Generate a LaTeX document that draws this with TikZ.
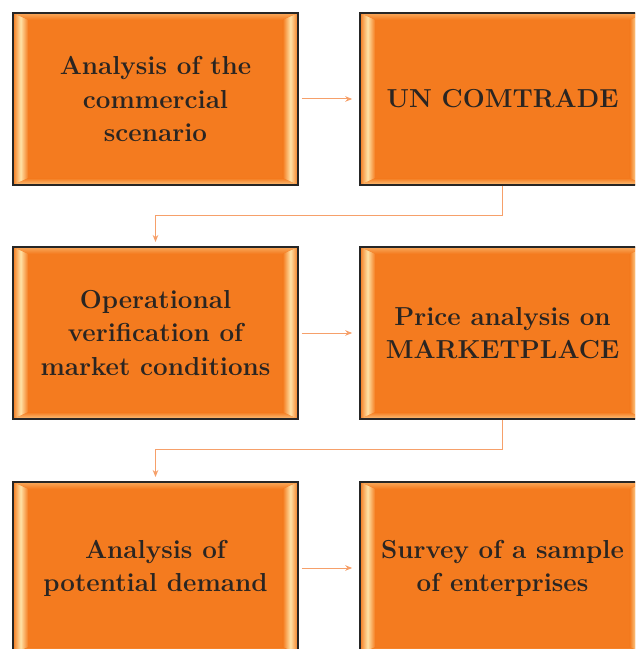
\documentclass[tikz,border=0pt]{standalone}
\usetikzlibrary{arrows.meta,calc}

\definecolor{boxorange}{HTML}{F47B1F}
\definecolor{bevlight}{HTML}{FFE2A6}
\definecolor{linkorange}{HTML}{F6A06A}
\definecolor{textgray}{HTML}{2A2522}

\begin{document}
\begin{tikzpicture}[
  stage/.style={draw=black!85, line width=1.1pt, fill=boxorange,
    minimum width=\boxW cm, minimum height=\boxH cm, inner sep=0pt,
    align=center, text=textgray,
    font=\bfseries\fontsize{18.5}{23.5}\selectfont,
    path picture={
      \path (path picture bounding box.south west) coordinate (pSW)
            (path picture bounding box.north east) coordinate (pNE);
      % side bevels
      \shade[left color=boxorange, right color=boxorange, middle color=bevlight]
        (pSW) -- (pSW|-pNE) -- ($(pSW|-pNE)+(\bevX,-\bevY)$)
        -- ($(pSW)+(\bevX,\bevY)$) -- cycle;
      \shade[left color=boxorange, right color=boxorange, middle color=bevlight]
        (pNE) -- (pNE|-pSW) -- ($(pNE|-pSW)+(-\bevX,\bevY)$)
        -- ($(pNE)+(-\bevX,-\bevY)$) -- cycle;
      % top and bottom bevels
      \shade[top color=bevlight!45!boxorange, bottom color=boxorange]
        (pSW|-pNE) -- (pNE) -- ($(pNE)+(-\bevX,-\bevY)$)
        -- ($(pSW|-pNE)+(\bevX,-\bevY)$) -- cycle;
      \shade[top color=boxorange, bottom color=bevlight!70!boxorange]
        (pSW) -- (pNE|-pSW) -- ($(pNE|-pSW)+(-\bevX,\bevY)$)
        -- ($(pSW)+(\bevX,\bevY)$) -- cycle;
    }},
  link/.style={draw=linkorange, line width=0.7pt,
    -{Stealth[length=5pt,width=4pt]}}
]

% Parameters
\def\boxW{7.125}  % box width
\def\boxH{4.3}    % box height
\def\bevX{0.38}   % side bevel
\def\bevY{0.17}   % top/bottom bevel

\clip (0,0) rectangle (15.875,16.225);
\useasboundingbox (0,0) rectangle (15.875,16.225);

% ==========================================================
% Stages
% ==========================================================
\node[stage] (scenario) at (3.8875,13.75)
  {Analysis of the\\commercial\\scenario};
\node[stage] (comtrade) at (12.5625,13.75) {UN COMTRADE};

\node[stage] (verify) at (3.8875,7.9)
  {Operational\\verification of\\market conditions};
\node[stage] (price) at (12.5625,7.9)
  {Price analysis on\\MARKETPLACE};

\node[stage] (demand) at (3.8875,2.025)
  {Analysis of\\potential demand};
\node[stage] (survey) at (12.5625,2.025)
  {Survey of a sample\\of enterprises};

% ==========================================================
% Connectors
% ==========================================================
\draw[link, shorten <=2pt, shorten >=5pt] (scenario) -- (comtrade);
\draw[link, shorten <=2pt, shorten >=5pt] (verify) -- (price);
\draw[link, shorten <=2pt, shorten >=5pt] (demand) -- (survey);

\draw[link, shorten >=3pt] (comtrade.south) -- ++(0,-0.75) -| (verify.north);
\draw[link, shorten >=3pt] (price.south) -- ++(0,-0.75) -| (demand.north);

\end{tikzpicture}
\end{document}
